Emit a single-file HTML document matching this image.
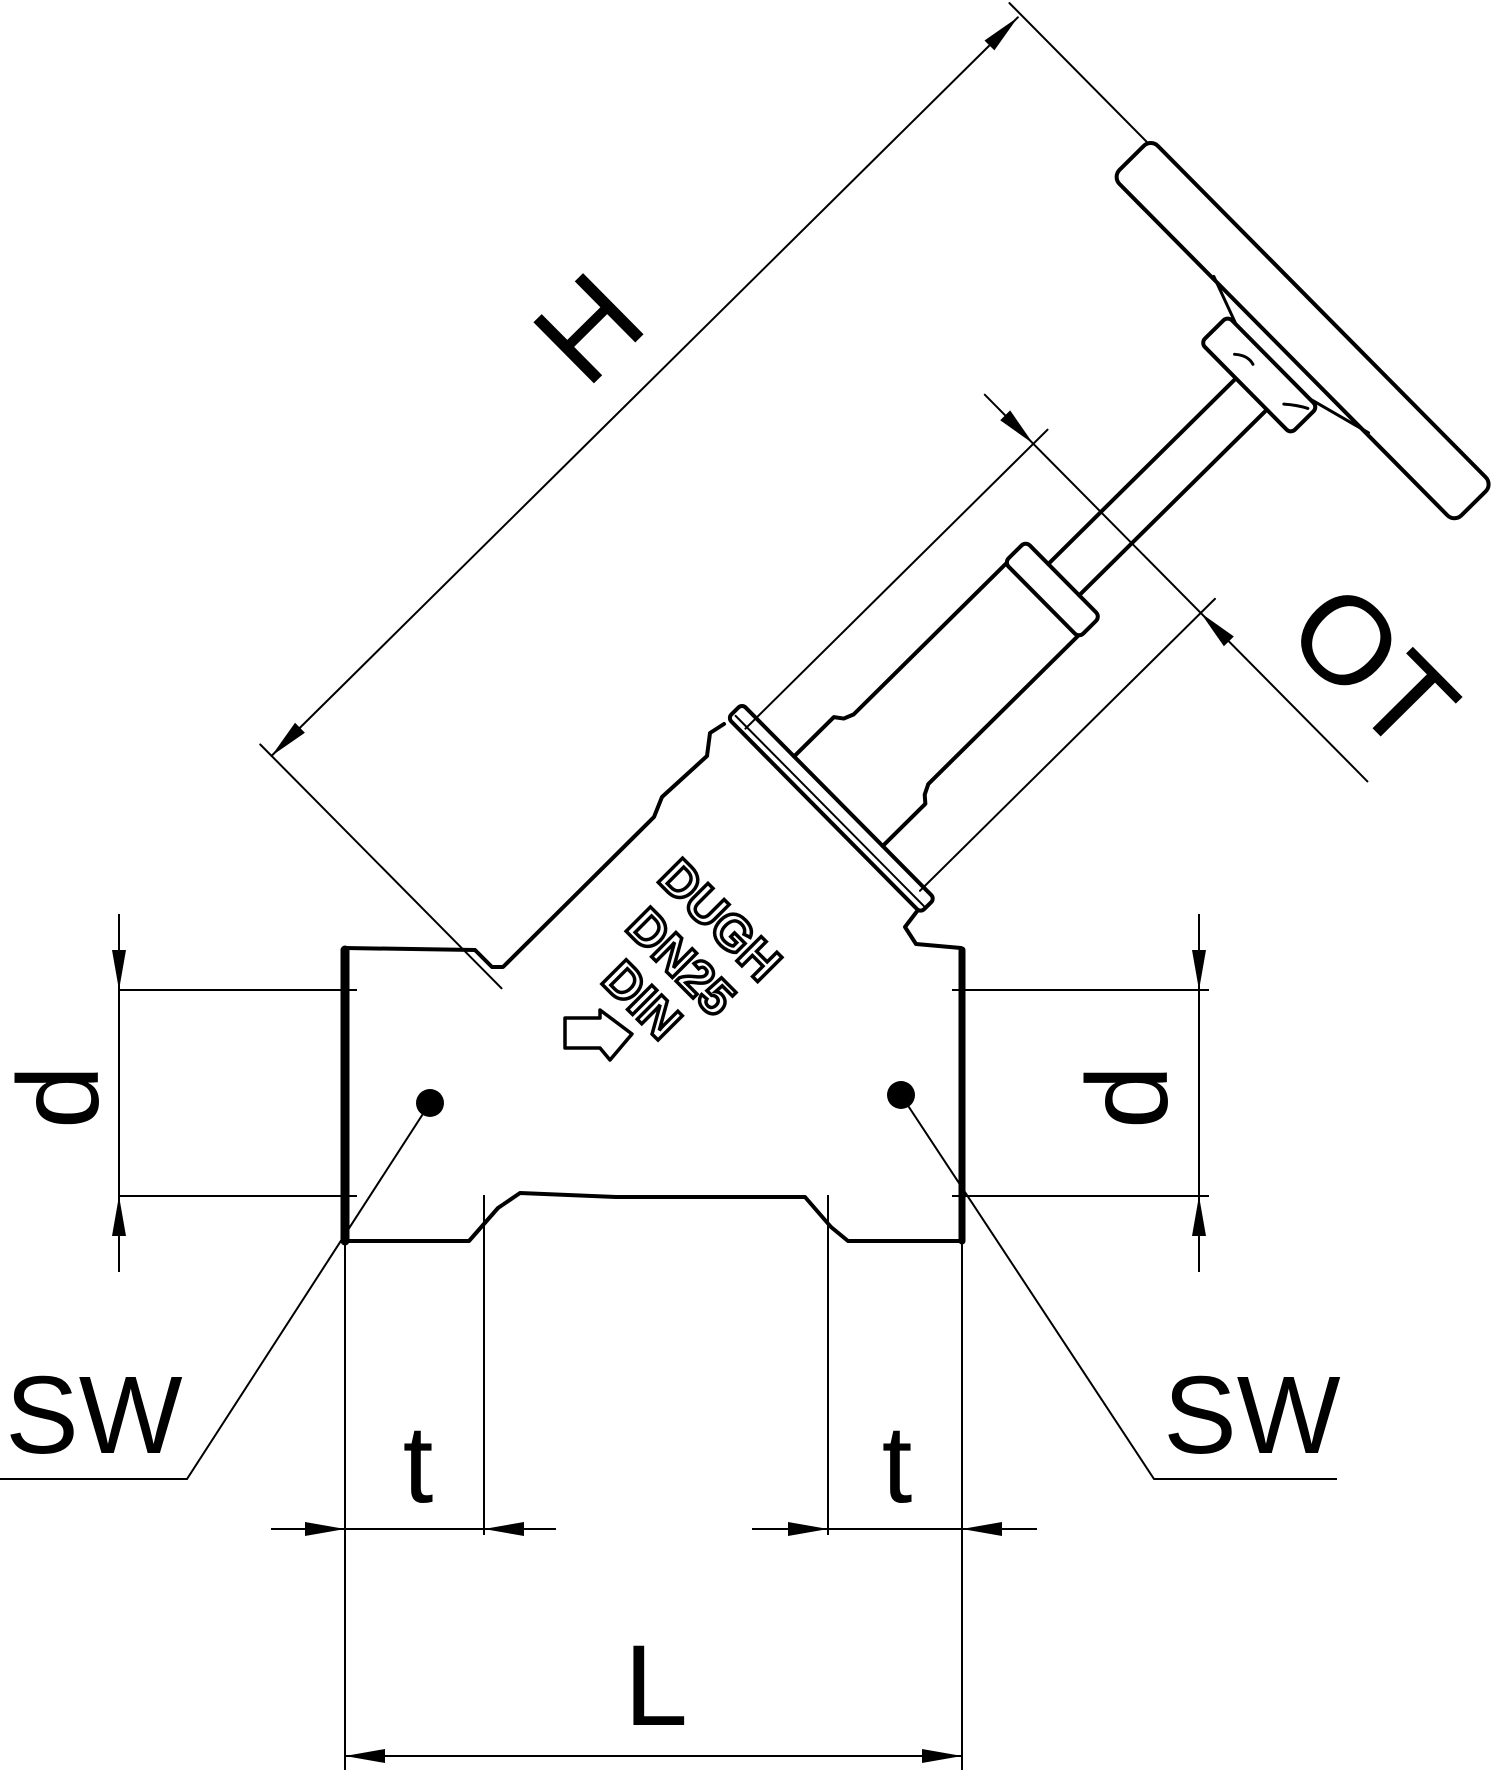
<!DOCTYPE html>
<html><head><meta charset="utf-8"><style>
html,body{margin:0;padding:0;background:#fff;}
svg{display:block;}
text{font-family:"Liberation Sans",Arial,sans-serif;}
</style></head><body>
<svg width="1500" height="1773" viewBox="0 0 1500 1773" xmlns="http://www.w3.org/2000/svg">
<rect width="1500" height="1773" fill="#fff"/>
<g fill="none" stroke="#000" stroke-linejoin="round" stroke-linecap="round">
<!-- body outline -->
<path stroke-width="4" d="M345,948 L475,950 L492,967 L503,967 L654,817 L662,797 L707,756 L710,733 L724,724"/>
<path stroke-width="4" d="M918,910 L905,927 L916,944 L961,948 L962,1241 L848,1241 L831,1227 L805,1197 L616,1197 L520,1193 L498,1208 L469,1241 L345,1241"/>
<line x1="345" y1="950" x2="345" y2="1241" stroke-width="9"/>
<line x1="962" y1="950" x2="962" y2="1241" stroke-width="7"/>
</g>
<!-- valve upper parts in local frame -->
<g transform="translate(832,809) rotate(-44.7)" fill="none" stroke="#000" stroke-linejoin="round" stroke-linecap="round">
  <rect x="-10" y="-138" width="20" height="274" rx="5" stroke-width="4"/>
  <line x1="-3" y1="-134" x2="-3" y2="134" stroke-width="2"/>
  <path stroke-width="4" d="M10,-64 L66,-64 L72,-56 L82,-52 L296,-52 M10,62 L70,62 L76,55 L86,50 L296,50"/>
  <rect x="296" y="-54" width="30" height="106" rx="6" stroke-width="4"/>
  <path stroke-width="4" d="M326,-22 L588,-22 M326,22 L588,22"/>
  <rect x="590" y="-72" width="38" height="128" rx="6" stroke-width="4"/>
  <path stroke-width="3" d="M628,-60 L646,-110 M628,44 L646,110 M606,-40 Q615,-30 612,-20 M606,30 Q615,40 620,50"/>
  <rect x="644" y="-252" width="54" height="486" rx="10" stroke-width="4"/>
  <!-- H dimension -->
  <line x1="-361" y1="-432" x2="689" y2="-432" stroke-width="2"/>
  <line x1="-361" y1="-448" x2="-361" y2="-105" stroke-width="2"/>
  <line x1="693" y1="-448" x2="693" y2="-252" stroke-width="2"/>
  <!-- OT dimension -->
  <line x1="400" y1="-187" x2="400" y2="357" stroke-width="2"/>
  <line x1="-5" y1="-118" x2="420" y2="-118" stroke-width="2"/>
  <line x1="5" y1="120" x2="420" y2="120" stroke-width="2"/>
</g>
<g transform="translate(832,809) rotate(-44.7)" fill="#000" stroke="none">
  <polygon points="-361,-432 -321,-439 -321,-425"/>
  <polygon points="689,-432 649,-439 649,-425"/>
  <polygon points="400,-118 393,-158 407,-158"/>
  <polygon points="400,120 393,160 407,160"/>
  <text x="165" y="-470" font-size="125" text-anchor="middle">H</text>
  <text transform="translate(485,280) rotate(90)" x="0" y="44" font-size="125" text-anchor="middle">OT</text>
</g>
<!-- dimension lines -->
<g stroke="#000" stroke-width="2" fill="none">
  <line x1="119" y1="990" x2="357" y2="990"/>
  <line x1="119" y1="1196" x2="357" y2="1196"/>
  <line x1="119" y1="914" x2="119" y2="1272"/>
  <line x1="952" y1="990" x2="1209" y2="990"/>
  <line x1="952" y1="1196" x2="1209" y2="1196"/>
  <line x1="1199" y1="914" x2="1199" y2="1272"/>
  <line x1="345" y1="1241" x2="345" y2="1770"/>
  <line x1="962" y1="1241" x2="962" y2="1770"/>
  <line x1="484" y1="1195" x2="484" y2="1535"/>
  <line x1="828" y1="1195" x2="828" y2="1535"/>
  <line x1="271" y1="1529" x2="556" y2="1529"/>
  <line x1="752" y1="1529" x2="1037" y2="1529"/>
  <line x1="345" y1="1756" x2="962" y2="1756"/>
  <polyline points="430,1103 187,1479 0,1479"/>
  <polyline points="901,1095 1154,1479 1337,1479"/>
</g>
<g fill="#000">
  <polygon points="119,990 112,950 126,950"/>
  <polygon points="119,1196 112,1236 126,1236"/>
  <polygon points="1199,990 1192,950 1206,950"/>
  <polygon points="1199,1196 1192,1236 1206,1236"/>
  <polygon points="345,1529 305,1522 305,1536"/>
  <polygon points="484,1529 524,1522 524,1536"/>
  <polygon points="828,1529 788,1522 788,1536"/>
  <polygon points="962,1529 1002,1522 1002,1536"/>
  <polygon points="345,1756 385,1749 385,1763"/>
  <polygon points="962,1756 922,1749 922,1763"/>
  <circle cx="430" cy="1103" r="14"/>
  <circle cx="901" cy="1095" r="14"/>
  <text x="94" y="1453" font-size="110" text-anchor="middle">SW</text>
  <text x="1252" y="1453" font-size="110" text-anchor="middle">SW</text>
  <text x="418" y="1502" font-size="110" text-anchor="middle">t</text>
  <text x="897" y="1502" font-size="110" text-anchor="middle">t</text>
  <text x="656" y="1725" font-size="115" text-anchor="middle">L</text>
  <text transform="translate(62,1097) rotate(-90)" x="0" y="36" font-size="115" text-anchor="middle">d</text>
  <text transform="translate(1131,1097) rotate(-90)" x="0" y="36" font-size="115" text-anchor="middle">d</text>
</g>
<!-- markings -->
<g fill="#fff" stroke="#000" stroke-width="3.5" font-weight="bold" font-size="50" text-anchor="middle" paint-order="normal">
  <text transform="translate(720,920) rotate(45)" y="17">DUGH</text>
  <text transform="translate(681,962) rotate(45)" y="17">DN25</text>
  <text transform="translate(642,1000) rotate(45)" y="17">DIN</text>
</g>
<path d="M565,1018 L600,1018 L600,1010 L632,1034 L610,1060 L600,1048 L565,1048 Z" fill="none" stroke="#000" stroke-width="3.5" stroke-linejoin="round"/>
</svg>
</body></html>
